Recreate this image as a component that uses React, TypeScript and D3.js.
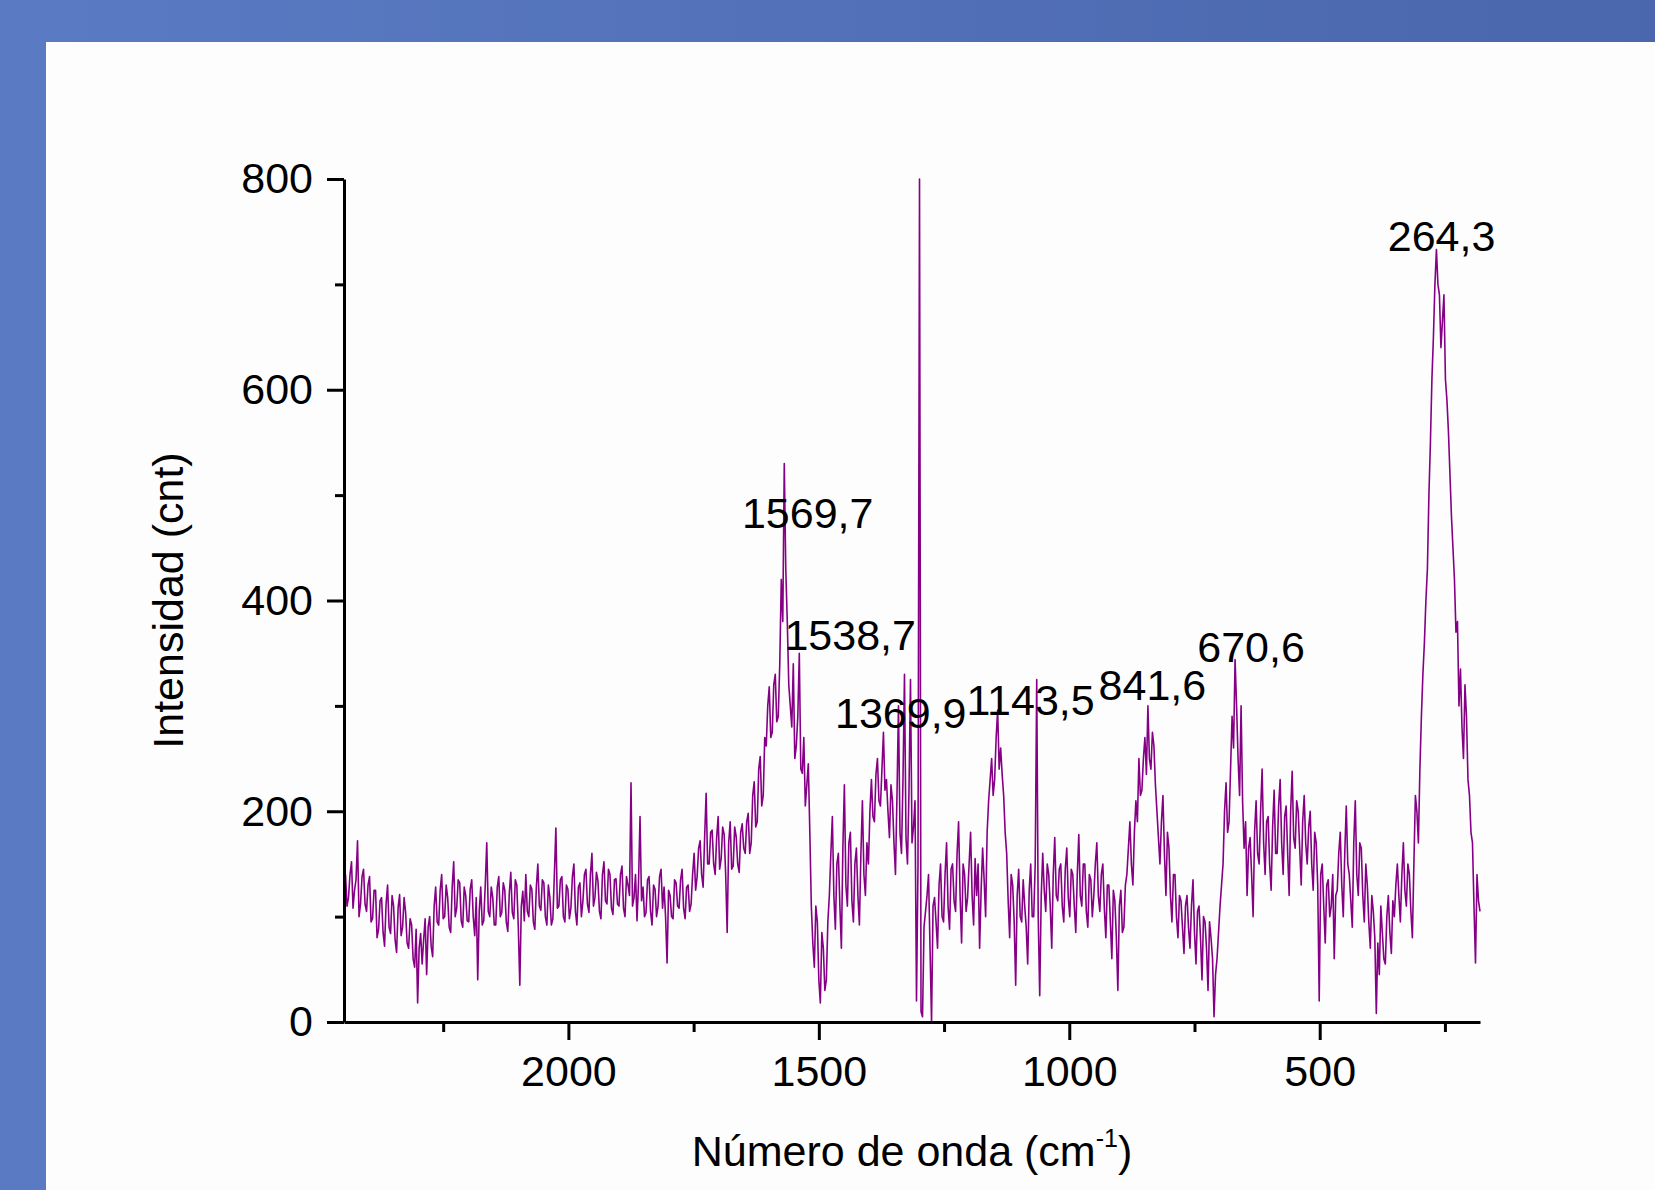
import React, { useEffect, useRef } from "react";
import * as d3 from "d3";

// Raman spectrum on a 3 cm-1 grid, kept as two interleaved lists:
// intensityEven at 2445, 2439, 2433 ... and intensityOdd at 2442, 2436, 2430 ...
const waveStart = 2445;
const waveStep = 6;
const intensityEven = [
  140, 118, 152, 125, 172, 112, 145, 105, 138, 98, // 2445
  125, 88, 118, 72, 130, 84, 110, 66, 121, 90, // 2385
  104, 70, 92, 52, 18, 84, 78, 45, 100, 62, // 2325
  128, 92, 140, 100, 118, 85, 152, 108, 132, 90, // 2265
  120, 95, 135, 82, 40, 128, 96, 170, 100, 118, // 2205
  92, 138, 104, 125, 86, 142, 98, 130, 35, 124, // 2145
  140, 100, 126, 88, 150, 106, 132, 92, 118, 98, // 2085
  184, 110, 138, 95, 126, 108, 150, 92, 132, 115, // 2025
  145, 104, 160, 118, 134, 98, 152, 112, 140, 102, // 1965
  136, 110, 148, 100, 130, 227, 118, 96, 195, 128, // 1905
  104, 138, 92, 126, 110, 145, 128, 56, 120, 98, // 1845
  132, 108, 145, 98, 130, 112, 160, 138, 172, 128, // 1785
  217, 150, 182, 140, 195, 155, 178, 85, 190, 148, // 1725
  176, 142, 188, 160, 198, 170, 228, 190, 252, 215, // 1665
  262, 318, 275, 330, 290, 420, 530, 380, 300, 340, // 1605
  262, 350, 236, 205, 245, 110, 52, 95, 18, 70, // 1545
  40, 120, 195, 88, 160, 70, 225, 110, 180, 95, // 1485
  165, 92, 210, 120, 150, 230, 190, 250, 205, 275, // 1425
  230, 175, 210, 140, 300, 160, 330, 150, 325, 185, // 1365
  20, 800, 5, 105, 140, 0, 118, 70, 150, 95, // 1305
  170, 88, 150, 105, 190, 75, 140, 118, 180, 92, // 1245
  120, 70, 165, 100, 210, 250, 230, 296, 260, 215, // 1185
  160, 80, 130, 35, 145, 95, 110, 55, 150, 100, // 1125
  325, 25, 160, 105, 140, 70, 175, 115, 150, 95, // 1065
  165, 100, 140, 85, 178, 110, 150, 90, 135, 120, // 1005
  170, 105, 150, 80, 130, 60, 115, 30, 125, 90, // 945
  140, 190, 130, 210, 250, 220, 270, 300, 240, 262, // 885
  200, 150, 215, 120, 165, 95, 140, 80, 115, 65, // 825
  120, 70, 135, 55, 110, 40, 95, 30, 80, 5, // 765
  60, 110, 150, 227, 190, 290, 344, 250, 300, 165, // 705
  120, 175, 100, 210, 150, 240, 140, 195, 125, 220, // 645
  160, 230, 140, 205, 120, 238, 165, 200, 130, 215, // 585
  150, 200, 125, 170, 20, 150, 75, 135, 110, 60, // 525
  125, 180, 100, 205, 140, 90, 210, 120, 165, 95, // 465
  130, 70, 105, 8, 45, 85, 55, 120, 65, 100, // 405
  150, 95, 170, 110, 140, 80, 215, 170, 290, 360, // 345
  430, 550, 650, 733, 690, 665, 610, 560, 480, 420, // 285
  380, 335, 250, 290, 215, 170, 56, 115, // 225
];
const intensityOdd = [
  110, 140, 108, 135, 100, 138, 112, 130, 95, 125, // 2442
  80, 115, 85, 112, 90, 120, 78, 108, 82, 118, // 2382
  75, 98, 60, 88, 70, 55, 98, 90, 72, 110, // 2322
  95, 125, 98, 130, 90, 128, 100, 135, 96, 128, // 2262
  96, 126, 100, 118, 105, 92, 130, 105, 128, 92, // 2202
  128, 100, 132, 95, 122, 104, 135, 90, 110, 96, // 2142
  105, 130, 95, 128, 110, 135, 100, 130, 92, 140, // 2082
  108, 135, 100, 130, 98, 138, 105, 128, 100, 140, // 2022
  112, 140, 110, 142, 105, 140, 115, 145, 108, 135, // 1962
  112, 140, 108, 138, 120, 110, 140, 132, 115, 100, // 1902
  135, 105, 130, 100, 138, 108, 100, 125, 100, 135, // 1842
  110, 135, 108, 128, 105, 140, 125, 165, 140, 175, // 1782
  150, 180, 150, 175, 145, 185, 140, 170, 145, 185, // 1722
  150, 180, 165, 190, 160, 215, 185, 240, 205, 270, // 1662
  300, 270, 320, 285, 340, 380, 430, 320, 280, 250, // 1602
  290, 240, 270, 225, 180, 75, 110, 40, 85, 30, // 1542
  95, 160, 120, 150, 110, 165, 130, 170, 115, 150, // 1482
  120, 160, 140, 170, 200, 195, 235, 210, 240, 220, // 1422
  200, 225, 170, 215, 180, 230, 175, 220, 170, 210, // 1362
  150, 10, 90, 120, 70, 110, 95, 130, 100, 140, // 1302
  110, 145, 115, 160, 120, 150, 105, 150, 120, 155, // 1242
  150, 125, 135, 180, 230, 215, 270, 240, 235, 180, // 1182
  115, 140, 95, 120, 100, 135, 90, 125, 100, 150, // 1122
  100, 120, 125, 150, 110, 140, 120, 145, 110, 145, // 1062
  118, 145, 110, 140, 120, 150, 105, 140, 100, 150, // 1002
  120, 140, 108, 130, 95, 125, 80, 110, 85, 130, // 942
  165, 150, 180, 190, 215, 250, 235, 250, 275, 225, // 882
  175, 190, 160, 180, 120, 140, 100, 120, 90, 110, // 822
  90, 110, 85, 105, 80, 100, 70, 95, 60, 45, // 762
  85, 130, 200, 180, 240, 260, 300, 215, 210, 190, // 702
  165, 140, 180, 160, 200, 170, 190, 150, 185, 160, // 642
  205, 170, 195, 160, 200, 175, 210, 165, 190, 170, // 582
  185, 150, 180, 130, 140, 110, 130, 100, 140, 120, // 522
  160, 130, 160, 150, 115, 170, 140, 170, 120, 150, // 462
  95, 120, 80, 75, 110, 60, 100, 85, 115, 130, // 402
  120, 140, 125, 150, 105, 150, 200, 240, 330, 400, // 342
  500, 610, 700, 700, 640, 690, 590, 520, 450, 370, // 282
  300, 280, 320, 230, 180, 110, 140, 105, // 222
];

const xMajorTicks = [2000, 1500, 1000, 500];
const xMinorTicks = [2250, 1750, 1250, 750, 250];
const yMajorTicks = [0, 200, 400, 600, 800];
const yMinorTicks = [100, 300, 500, 700];

const peakLabels = ["1569,7", "1538,7", "1369,9", "1143,5", "841,6", "670,6", "264,3"];
const peakWaves = [1569.7, 1538.7, 1369.9, 1143.5, 841.6, 670.6, 264.3];

const FONT = "'Liberation Sans', Arial, sans-serif";
const FS = 43;

export default function App() {
  const ref = useRef<SVGSVGElement>(null);

  useEffect(() => {
    const svg = d3.select(ref.current);
    svg.selectAll("*").remove();

    const W = 1655, H = 1190;
    const left = 344, right = 1480, top = 179, bottom = 1022;

    // slide background
    const defs = svg.append("defs");
    const grad = defs.append("linearGradient").attr("id", "band").attr("x1", "0").attr("x2", "1").attr("y1", "0").attr("y2", "0");
    grad.append("stop").attr("offset", "0").attr("stop-color", "#5a7bc4");
    grad.append("stop").attr("offset", "1").attr("stop-color", "#4a66ac");
    svg.append("rect").attr("width", W).attr("height", H).attr("fill", "#fdfdfd");
    svg.append("rect").attr("width", W).attr("height", 42).attr("fill", "url(#band)");
    svg.append("rect").attr("width", 46).attr("height", H).attr("fill", "#5a7ac3");

    const x = d3.scaleLinear().domain([2448, 180]).range([left, right]);
    const y = d3.scaleLinear().domain([0, 800]).range([bottom, top]);

    // interleave the two lists into one spectrum
    const points: [number, number][] = [];
    intensityEven.forEach((v, i) => {
      const w = waveStart - i * waveStep;
      points.push([w, v]);
      if (i < intensityOdd.length) points.push([w - waveStep / 2, intensityOdd[i]]);
    });

    const line = d3.line<[number, number]>()
      .x(d => x(d[0]))
      .y(d => y(d[1]));
    svg.append("path")
      .datum(points)
      .attr("d", line)
      .attr("fill", "none")
      .attr("stroke", "#850085")
      .attr("stroke-width", 1.6)
      .attr("stroke-linejoin", "round");

    // axes
    const xAxis = svg.append("g").attr("transform", `translate(0,${bottom})`)
      .call(d3.axisBottom(x).tickValues(xMajorTicks).tickSize(18).tickPadding(15).tickSizeOuter(0).tickFormat(d3.format("d")));
    svg.append("g").attr("transform", `translate(0,${bottom})`)
      .call(d3.axisBottom(x).tickValues(xMinorTicks).tickSize(10).tickSizeOuter(0).tickFormat(() => ""))
      .call(g => g.select(".domain").remove());

    const yAxis = svg.append("g").attr("transform", `translate(${left},0)`)
      .call(d3.axisLeft(y).tickValues(yMajorTicks).tickSize(17).tickPadding(14).tickSizeOuter(0));
    svg.append("g").attr("transform", `translate(${left},0)`)
      .call(d3.axisLeft(y).tickValues(yMinorTicks).tickSize(9).tickSizeOuter(0).tickFormat(() => ""))
      .call(g => g.select(".domain").remove());

    svg.selectAll(".domain, .tick line").attr("stroke", "#000").attr("stroke-width", 3);
    [xAxis, yAxis].forEach(g => g.selectAll("text").attr("font-family", FONT).attr("font-size", FS).attr("fill", "#000"));

    // peak labels
    const labelDx = [-42, -15, -49, -31, -50, -37, -50];
    const labelY = [528, 650, 728, 715, 700, 662, 251];
    svg.append("g").selectAll("text")
      .data(peakLabels)
      .join("text")
      .attr("x", (d, i) => x(peakWaves[i]) + labelDx[i])
      .attr("y", (d, i) => labelY[i])
      .attr("font-family", FONT)
      .attr("font-size", FS)
      .attr("fill", "#000")
      .text(d => d);

    // axis titles
    const xt = svg.append("text")
      .attr("x", (left + right) / 2)
      .attr("y", 1166)
      .attr("text-anchor", "middle")
      .attr("font-family", FONT)
      .attr("font-size", FS)
      .attr("fill", "#000");
    xt.append("tspan").text("Número de onda (cm");
    xt.append("tspan").attr("font-size", 25).attr("dy", -19).text("-1");
    xt.append("tspan").attr("dy", 19).text(")");

    svg.append("text")
      .attr("transform", `translate(183,${(top + bottom) / 2}) rotate(-90)`)
      .attr("text-anchor", "middle")
      .attr("font-family", FONT)
      .attr("font-size", FS)
      .attr("fill", "#000")
      .text("Intensidad (cnt)");
  }, []);

  return (
    <svg
      ref={ref}
      width={1655}
      height={1190}
      style={{ position: "absolute", left: 0, top: 0, display: "block" }}
    />
  );
}
